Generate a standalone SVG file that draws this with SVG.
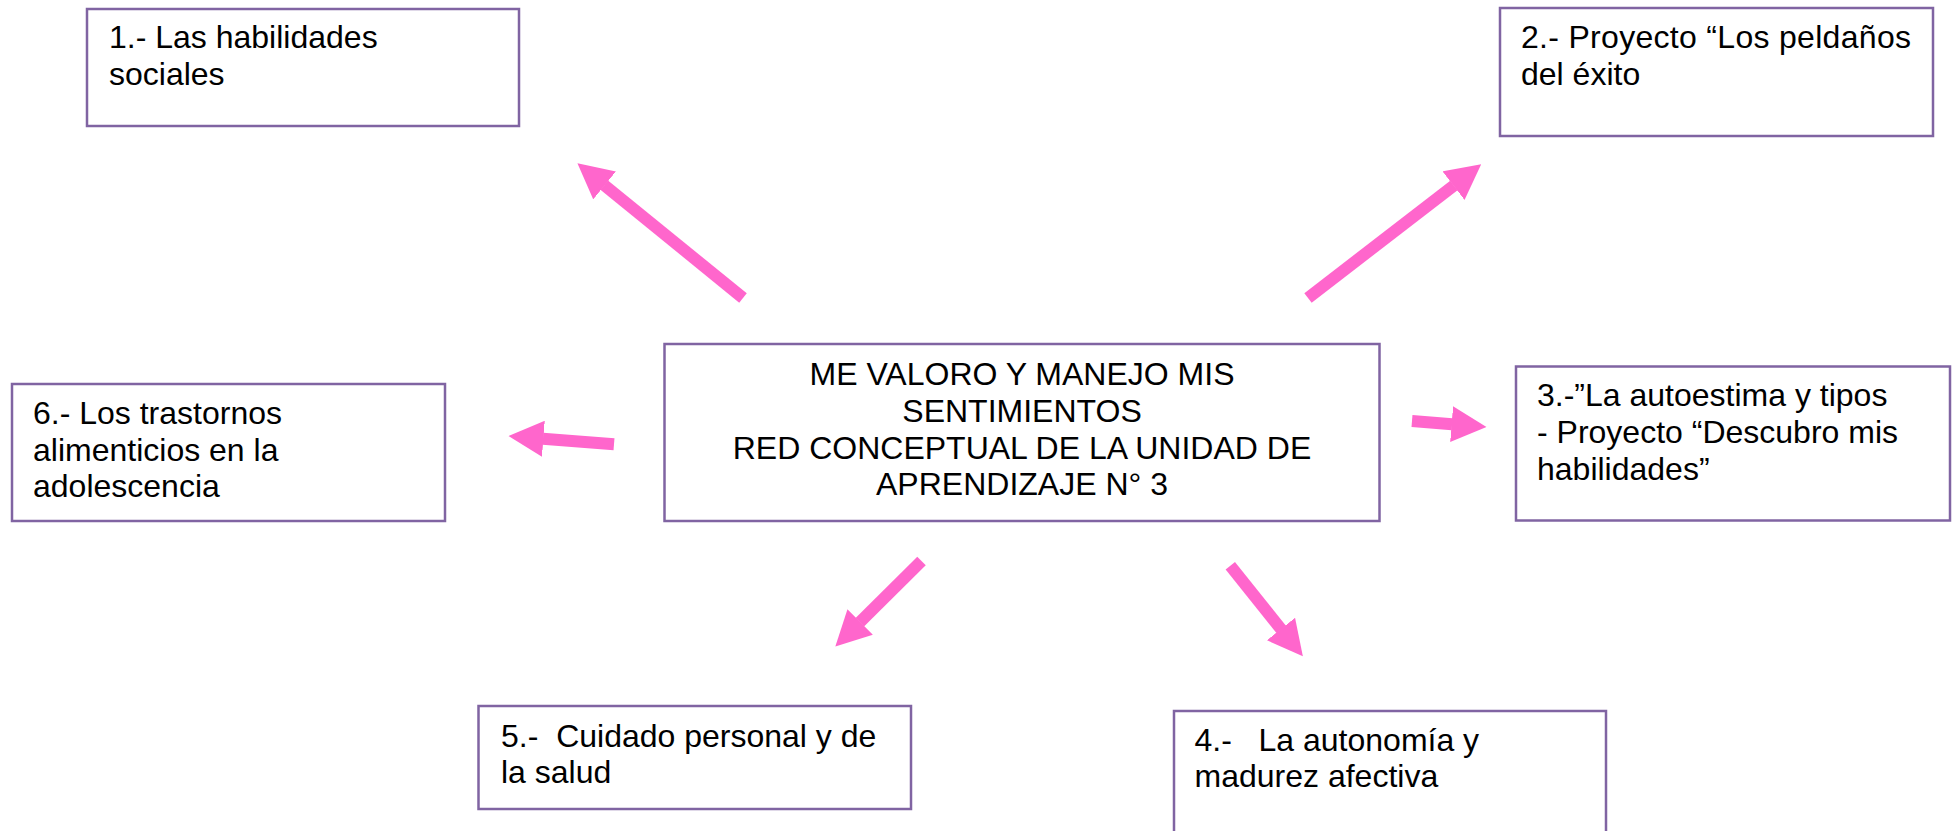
<svg xmlns="http://www.w3.org/2000/svg" width="1955" height="831" viewBox="0 0 1955 831">
<style>
.box{fill:#ffffff;stroke:#8064A2;stroke-width:2.5}
.t{font-family:"Liberation Sans",Arial,sans-serif;font-size:32px;fill:#000000}
.c{text-anchor:middle}
.arr{stroke:#FF66CC;stroke-width:12;fill:none;stroke-linecap:butt;marker-end:url(#head)}
</style>
<defs>
<marker id="head" markerUnits="userSpaceOnUse" viewBox="0 0 35 36" markerWidth="35" markerHeight="36" refX="0.5" refY="18" orient="auto">
<path d="M0,0 L35,18 L0,36 Z" fill="#FF66CC"/>
</marker>
</defs>
<rect width="1955" height="831" fill="#ffffff"/>
<g id="connectors">
<line class="arr" x1="743" y1="298" x2="604.2" y2="185.1"/>
<line class="arr" x1="1308" y1="298" x2="1453.9" y2="185.4"/>
<line class="arr" x1="1412" y1="421" x2="1452.1" y2="424.2"/>
<line class="arr" x1="614" y1="444.3" x2="542.9" y2="438.7"/>
<line class="arr" x1="921.5" y1="561" x2="859.8" y2="622.3"/>
<line class="arr" x1="1230.3" y1="565.7" x2="1281.3" y2="629.4"/>
</g>
<g id="node-center">
<rect class="box" x="664.5" y="344" width="715" height="177"/>
<text class="t c" x="1022" y="385">ME VALORO Y MANEJO MIS</text>
<text class="t c" x="1022" y="421.8">SENTIMIENTOS</text>
<text class="t c" x="1022" y="458.6">RED CONCEPTUAL DE LA UNIDAD DE</text>
<text class="t c" x="1022" y="495.4">APRENDIZAJE N° 3</text>
</g>
<g id="node-1">
<rect class="box" x="87" y="9" width="432" height="117"/>
<text class="t" x="109" y="48">1.- Las habilidades</text>
<text class="t" x="109" y="85">sociales</text>
</g>
<g id="node-2">
<rect class="box" x="1500" y="8" width="433" height="128"/>
<text class="t" x="1521" y="48" textLength="390" lengthAdjust="spacing">2.- Proyecto “Los peldaños</text>
<text class="t" x="1521" y="85">del éxito</text>
</g>
<g id="node-3">
<rect class="box" x="1516" y="366.5" width="434" height="154"/>
<text class="t" x="1537" y="406">3.-”La autoestima y tipos</text>
<text class="t" x="1537" y="443">- Proyecto “Descubro mis</text>
<text class="t" x="1537" y="480">habilidades”</text>
</g>
<g id="node-6">
<rect class="box" x="12" y="384" width="433" height="137"/>
<text class="t" x="33" y="424">6.- Los trastornos</text>
<text class="t" x="33" y="460.5">alimenticios en la</text>
<text class="t" x="33" y="497">adolescencia</text>
</g>
<g id="node-5">
<rect class="box" x="478.5" y="706" width="432.5" height="103"/>
<text class="t" xml:space="preserve" x="501" y="747">5.-  Cuidado personal y de</text>
<text class="t" x="501" y="783">la salud</text>
</g>
<g id="node-4">
<rect class="box" x="1174" y="711" width="432" height="135"/>
<text class="t" xml:space="preserve" x="1194.5" y="751">4.-   La autonomía y</text>
<text class="t" x="1194.5" y="787">madurez afectiva</text>
</g>
</svg>
